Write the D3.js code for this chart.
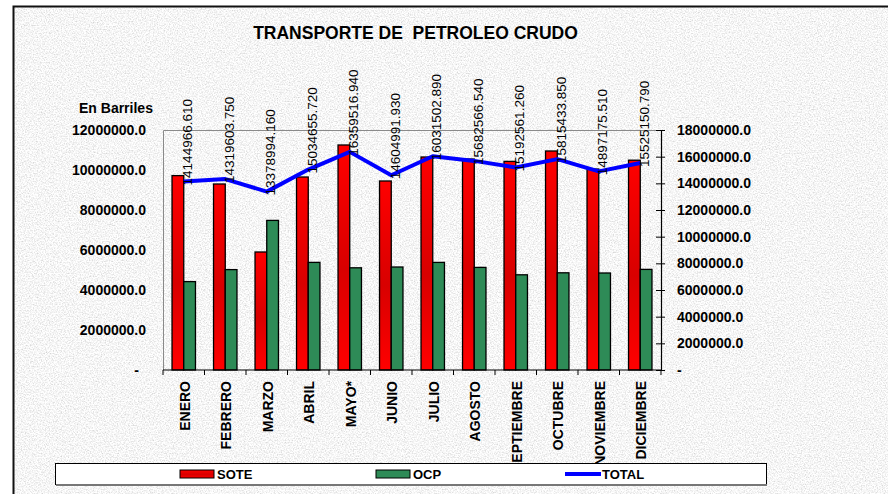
<!DOCTYPE html>
<html>
<head>
<meta charset="utf-8">
<script src="https://cdn.jsdelivr.net/npm/d3@7/dist/d3.min.js"></script>
<style>
  html, body { margin: 0; padding: 0; background: #fff; }
  svg { display: block; font-family: "Liberation Sans", Arial, sans-serif; }
</style>
</head>
<body>
<svg id="chart" width="888" height="494"></svg>
<script>
// months on the category axis
const months = ["ENERO", "FEBRERO", "MARZO", "ABRIL", "MAYO*", "JUNIO", "JULIO",
  "AGOSTO", "SEPTIEMBRE", "OCTUBRE", "NOVIEMBRE", "DICIEMBRE"];

// barrels per month (left axis)
const sote = [9720000, 9300000, 5900000, 9650000, 11250000, 9450000, 10650000,
  10550000, 10430000, 10950000, 10050000, 10490000];
const ocp = [4420000, 5020000, 7480000, 5380000, 5110000, 5150000, 5380000,
  5130000, 4760000, 4860000, 4850000, 5030000];

// total per month, from the data labels (right axis)
const total = [14144966.610, 14319603.750, 13378994.160, 15034655.720, 16359516.940,
  14604991.930, 16031502.890, 15682566.540, 15192561.260, 15815433.850,
  14897175.510, 15525150.790];

const leftTicks = [0, 2000000, 4000000, 6000000, 8000000, 10000000, 12000000];
const rightTicks = [0, 2000000, 4000000, 6000000, 8000000, 10000000, 12000000,
  14000000, 16000000, 18000000];

const svg = d3.select("#chart");
const plot = {left: 163, right: 661, top: 130, bottom: 370};

// ---- background: grey granite-like texture with a frame on the left and top
const defs = svg.append("defs");
const noise = defs.append("filter").attr("id", "granite")
  .attr("x", 0).attr("y", 0).attr("width", "100%").attr("height", "100%");
noise.append("feTurbulence")
  .attr("type", "fractalNoise")
  .attr("baseFrequency", 0.75)
  .attr("numOctaves", 2)
  .attr("seed", 7)
  .attr("result", "n");
noise.append("feColorMatrix")
  .attr("in", "n")
  .attr("type", "matrix")
  .attr("values", "0.7 0 0 0 0.57  0.7 0 0 0 0.57  0.7 0 0 0 0.57  0 0 0 0 1");

svg.append("rect")
  .attr("x", 13).attr("y", 6)
  .attr("width", 888 - 13).attr("height", 494 - 6)
  .attr("filter", "url(#granite)");
svg.append("path")
  .attr("d", "M13.5,494V6.5H888")
  .attr("fill", "none")
  .attr("stroke", "#111")
  .attr("stroke-width", 2);

// red bars fade darker towards the middle
const redGrad = defs.append("linearGradient").attr("id", "redGrad")
  .attr("x1", 0).attr("y1", 0).attr("x2", 0).attr("y2", 1);
redGrad.append("stop").attr("offset", "0%").attr("stop-color", "#ff0000");
redGrad.append("stop").attr("offset", "55%").attr("stop-color", "#d80000");
redGrad.append("stop").attr("offset", "100%").attr("stop-color", "#ff0000");

// ---- scales
const x = d3.scaleBand().domain(months).range([plot.left, plot.right]).padding(0);
const xSub = d3.scaleBand().domain(["SOTE", "OCP"])
  .range([0, x.bandwidth()]).paddingInner(0).paddingOuter(0.77);
const yLeft = d3.scaleLinear().domain([0, 12000000]).range([plot.bottom, plot.top]);
const yRight = d3.scaleLinear().domain([0, 18000000]).range([plot.bottom, plot.top]);

const fmt = v => v === 0 ? "-" : d3.format(".1f")(v);

// ---- title
svg.append("text")
  .attr("x", 415.5).attr("y", 33)
  .attr("text-anchor", "middle")
  .attr("dominant-baseline", "central")
  .attr("font-size", 17.5)
  .attr("font-weight", "bold")
  .attr("xml:space", "preserve")
  .text("TRANSPORTE DE  PETROLEO CRUDO");

svg.append("text")
  .attr("x", 79).attr("y", 108)
  .attr("dominant-baseline", "central")
  .attr("font-size", 14)
  .attr("font-weight", "bold")
  .text("En Barriles");

// ---- plot border (grey) on top/left
svg.append("path")
  .attr("d", `M${plot.left + 0.5},${plot.bottom}V${plot.top + 0.5}H${plot.right}`)
  .attr("fill", "none")
  .attr("stroke", "#8a8a8a")
  .attr("stroke-width", 1);

// ---- left axis: labels only
const gLeft = svg.append("g")
  .attr("transform", `translate(${plot.left},0)`)
  .call(d3.axisLeft(yLeft).tickValues(leftTicks).tickSize(0).tickPadding(17).tickFormat(fmt));
gLeft.select(".domain").remove();
gLeft.selectAll("text")
  .attr("font-size", 14)
  .attr("font-weight", "bold")
  .attr("font-family", null)
  .attr("fill", "#000")
  .attr("dx", d => d === 0 ? -7 : 0);

// ---- right axis: ticks crossing the line
const gRight = svg.append("g")
  .attr("transform", `translate(${plot.right},0)`)
  .call(d3.axisRight(yRight).tickValues(rightTicks).tickSizeInner(4).tickSizeOuter(0)
    .tickPadding(12).tickFormat(fmt));
gRight.select(".domain").attr("stroke", "#000").attr("stroke-width", 1.2);
gRight.selectAll(".tick line")
  .attr("x1", -5)
  .attr("stroke", "#000");
gRight.selectAll("text")
  .attr("font-size", 14)
  .attr("font-weight", "bold")
  .attr("font-family", null)
  .attr("fill", "#000");

// ---- bars
const gBars = svg.append("g");
const groups = gBars.selectAll("g.month")
  .data(months)
  .join("g")
  .attr("class", "month")
  .attr("transform", d => `translate(${x(d)},0)`);

groups.append("rect")
  .attr("x", xSub("SOTE"))
  .attr("y", (d, i) => yLeft(sote[i]))
  .attr("width", xSub.bandwidth())
  .attr("height", (d, i) => yLeft(0) - yLeft(sote[i]))
  .attr("fill", "url(#redGrad)")
  .attr("stroke", "#000")
  .attr("stroke-width", 1.3);

groups.append("rect")
  .attr("x", xSub("OCP"))
  .attr("y", (d, i) => yLeft(ocp[i]))
  .attr("width", xSub.bandwidth())
  .attr("height", (d, i) => yLeft(0) - yLeft(ocp[i]))
  .attr("fill", "#2e8b57")
  .attr("stroke", "#000")
  .attr("stroke-width", 1.3);

// ---- category axis
const gBottom = svg.append("g")
  .attr("transform", `translate(0,${plot.bottom})`);
gBottom.append("line")
  .attr("x1", plot.left).attr("x2", plot.right)
  .attr("stroke", "#000").attr("stroke-width", 1.2);
gBottom.selectAll("line.tk")
  .data(months.concat([null]))
  .join("line")
  .attr("class", "tk")
  .attr("x1", (d, i) => plot.left + i * x.step())
  .attr("x2", (d, i) => plot.left + i * x.step())
  .attr("y1", 0).attr("y2", 5)
  .attr("stroke", "#000");
gBottom.selectAll("text")
  .data(months)
  .join("text")
  .attr("transform", d => `translate(${x(d) + x.bandwidth() / 2 + 1},11) rotate(-90)`)
  .attr("text-anchor", "end")
  .attr("dominant-baseline", "central")
  .attr("font-size", 14)
  .attr("font-weight", "bold")
  .text(d => d);

// ---- total line
const line = d3.line()
  .x((d, i) => x(months[i]) + x.bandwidth() / 2)
  .y(d => yRight(d));

svg.append("path")
  .datum(total)
  .attr("d", line)
  .attr("fill", "none")
  .attr("stroke", "#0000ff")
  .attr("stroke-width", 4)
  .attr("stroke-linejoin", "round");

// data labels on the total line, reading upwards
svg.append("g").selectAll("text")
  .data(total)
  .join("text")
  .attr("transform", (d, i) =>
    `translate(${x(months[i]) + x.bandwidth() / 2 + 4},${yRight(d) + 4}) rotate(-90)`)
  .attr("dominant-baseline", "central")
  .attr("font-size", 13.5)
  .attr("fill", "#000")
  .text(d => d3.format(".3f")(d));

// ---- legend
const legend = svg.append("g");
legend.append("rect")
  .attr("x", 55.5).attr("y", 463.5)
  .attr("width", 711).attr("height", 21)
  .attr("fill", "#fff")
  .attr("stroke", "#000")
  .attr("stroke-width", 1);
legend.append("line")
  .attr("x1", 56).attr("x2", 767)
  .attr("y1", 485).attr("y2", 485)
  .attr("stroke", "#777").attr("stroke-width", 2);

const legendItems = [
  {name: "SOTE", x: 180, kind: "bar", fill: "url(#redGrad)"},
  {name: "OCP", x: 376, kind: "bar", fill: "#2e8b57"},
  {name: "TOTAL", x: 565, kind: "line", fill: "#0000ff"}
];
legendItems.forEach(item => {
  if (item.kind === "bar") {
    legend.append("rect")
      .attr("x", item.x).attr("y", 470)
      .attr("width", 34).attr("height", 8)
      .attr("fill", item.fill)
      .attr("stroke", "#000")
      .attr("stroke-width", 1);
  } else {
    legend.append("line")
      .attr("x1", item.x).attr("x2", item.x + 36)
      .attr("y1", 474).attr("y2", 474)
      .attr("stroke", item.fill)
      .attr("stroke-width", 4);
  }
  legend.append("text")
    .attr("x", item.x + 37).attr("y", 474)
    .attr("dominant-baseline", "central")
    .attr("font-size", 13)
    .attr("font-weight", "bold")
    .text(item.name);
});
</script>
</body>
</html>
